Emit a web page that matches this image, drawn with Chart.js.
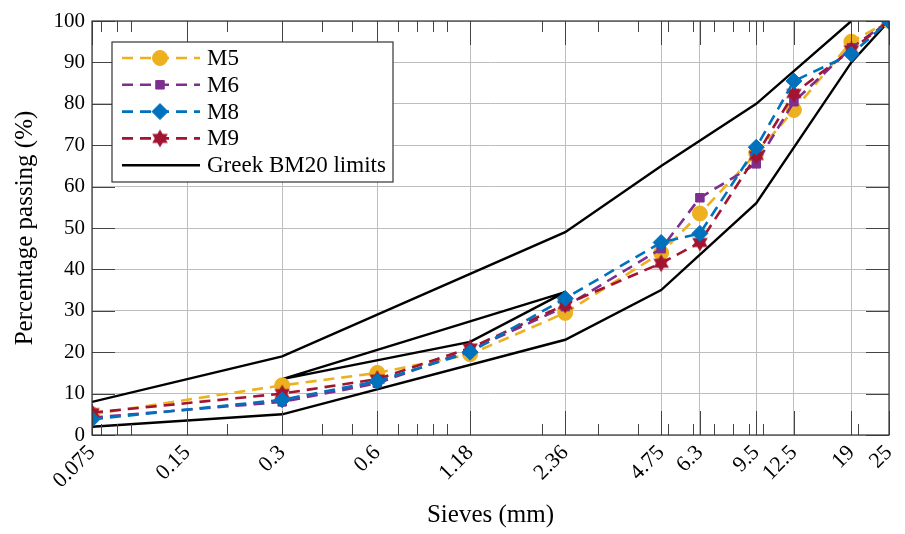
<!DOCTYPE html>
<html>
<head>
<meta charset="utf-8">
<script src="https://cdn.jsdelivr.net/npm/chart.js@4.4.1/dist/chart.umd.min.js"></script>
<style>
  html, body { margin:0; padding:0; background:#fff; }
  #wrap { width:905px; height:534px; }
</style>
</head>
<body>
<div id="wrap"><canvas id="grading" width="905" height="534"></canvas></div>
<script>
// sieve sizes (mm) and tick labels
const sieveTicks = [0.075, 0.15, 0.3, 0.6, 1.18, 2.36, 4.75, 6.3, 9.5, 12.5, 19, 25];
const minorTicks = [0.08, 0.09, 0.1, 0.2, 0.4, 0.5, 0.7, 0.8, 0.9, 1, 2, 3, 4, 5, 6, 7, 8, 9, 10, 20];
const yTicks = [0, 10, 20, 30, 40, 50, 60, 70, 80, 90, 100];

// mixture gradations (% passing)
const mixSieves = [0.075, 0.3, 0.6, 1.18, 2.36, 4.75, 6.3, 9.5, 12.5, 19, 25];
const m5 = [5.0, 12.0, 15.0, 19.5, 29.5, 44.0, 53.5, 68.0, 78.5, 95.0, 100];
const m6 = [4.2, 8.0, 12.5, 20.5, 31.0, 45.0, 57.3, 65.5, 80.5, 93.5, 100];
const m8 = [3.8, 8.5, 13.0, 20.0, 33.0, 46.5, 48.7, 69.5, 85.5, 92.0, 100];
const m9 = [5.4, 10.0, 13.5, 21.0, 31.5, 41.5, 46.5, 67.5, 82.5, 93.0, 100];

// Greek BM20 limits
const upperSieves = [0.075, 0.3, 2.36, 4.75, 9.5, 19];
const upperLimit = [8, 19, 49, 65, 80, 100];
const lowerSieves = [0.075, 0.3, 2.36, 4.75, 9.5, 19, 25];
const lowerLimit = [2, 5, 23, 35, 56, 90, 100];
const zoneSieves = [0.3, 1.18, 2.36, 0.3];
const zoneLimit = [13.5, 22.5, 34.5, 13.5];

const FONT = '"Liberation Serif", "DejaVu Serif", serif';

function pts(xs, ys){ return xs.map((x,i)=>({x:x, y:ys[i]})); }

// six pointed star marker
function hexStar(color, r){
  const c = document.createElement('canvas');
  const s = Math.ceil(r*2 + 2);
  c.width = s; c.height = s;
  const g = c.getContext('2d');
  g.fillStyle = color;
  [-90, 90].forEach(off => {
    g.beginPath();
    for (let k=0;k<3;k++){
      const a = (off + k*120) * Math.PI/180;
      const px = s/2 + r*Math.cos(a), py = s/2 + r*Math.sin(a);
      k ? g.lineTo(px,py) : g.moveTo(px,py);
    }
    g.closePath(); g.fill();
  });
  return c;
}

const C5 = '#EDB120', C6 = '#7E2F8E', C8 = '#0072BD', C9 = '#A2142F';

function mix(label, data, color, style, radius, order){
  return {
    label, data: pts(mixSieves, data), order,
    borderColor: color, backgroundColor: color,
    borderWidth: 2.6, borderDash: [11, 7],
    pointStyle: style, pointRadius: radius, pointHoverRadius: radius,
    pointBackgroundColor: color, pointBorderColor: color, pointBorderWidth: 1,
    tension: 0, fill: false
  };
}
function limit(label, xs, ys){
  return {
    label, data: pts(xs, ys), order: 10,
    borderColor: '#000', backgroundColor: '#000', borderWidth: 2.4,
    pointRadius: 0, pointHoverRadius: 0, tension: 0, fill: false
  };
}

const datasets = [
  mix('M5', m5, C5, 'circle', 7.5, 4),
  mix('M6', m6, C6, 'rect', 6, 3),
  mix('M8', m8, C8, 'rectRot', 8, 1),
  mix('M9', m9, C9, hexStar(C9, 9), 9, 2),
  limit('Greek BM20 limits', upperSieves, upperLimit),
  limit('lower', lowerSieves, lowerLimit),
  limit('zone', zoneSieves, zoneLimit)
];

// frame, inner ticks and legend box inside the plot
const decor = {
  id: 'decor',
  afterDraw(chart){
    const {ctx, chartArea:a, scales:{x, y}} = chart;
    ctx.save();
    ctx.strokeStyle = '#444'; ctx.lineWidth = 1;
    ctx.beginPath();
    sieveTicks.forEach(v => { const px = Math.round(x.getPixelForValue(v))+0.5;
      ctx.moveTo(px, a.bottom); ctx.lineTo(px, a.bottom-24);
      ctx.moveTo(px, a.top); ctx.lineTo(px, a.top+24); });
    minorTicks.forEach(v => { const px = Math.round(x.getPixelForValue(v))+0.5;
      ctx.moveTo(px, a.bottom); ctx.lineTo(px, a.bottom-11);
      ctx.moveTo(px, a.top); ctx.lineTo(px, a.top+11); });
    yTicks.forEach(v => { const py = Math.round(y.getPixelForValue(v))+0.5;
      ctx.moveTo(a.left, py); ctx.lineTo(a.left+23, py);
      ctx.moveTo(a.right, py); ctx.lineTo(a.right-23, py); });
    ctx.stroke();
    ctx.strokeStyle = '#333'; ctx.lineWidth = 1.2;
    ctx.strokeRect(a.left, a.top, a.right-a.left, a.bottom-a.top);

    // legend
    const bx = a.left + 20, by = a.top + 21, bw = 281, bh = 140;
    ctx.fillStyle = '#fff'; ctx.fillRect(bx, by, bw, bh);
    ctx.strokeStyle = '#333'; ctx.lineWidth = 1.2; ctx.strokeRect(bx, by, bw, bh);
    const items = [0, 1, 2, 3, 4];
    ctx.font = '23px ' + FONT; ctx.textBaseline = 'middle'; ctx.textAlign = 'left';
    items.forEach((di, i) => {
      const ds = chart.data.datasets[di];
      const ly = by + 16 + i*26.8;
      ctx.strokeStyle = ds.borderColor; ctx.lineWidth = ds.borderWidth;
      ctx.setLineDash(ds.borderDash || []);
      ctx.beginPath(); ctx.moveTo(bx+10, ly); ctx.lineTo(bx+88, ly); ctx.stroke();
      ctx.setLineDash([]);
      if (ds.pointRadius){
        ctx.fillStyle = ds.pointBackgroundColor; ctx.strokeStyle = ds.pointBorderColor; ctx.lineWidth = 1;
        Chart.helpers.drawPoint(ctx, {pointStyle: ds.pointStyle, radius: ds.pointRadius, rotation: 0, borderWidth: 1}, bx+48, ly);
      }
      ctx.fillStyle = '#000';
      ctx.fillText(ds.label, bx+95, ly+1);
    });
    ctx.restore();
  }
};

new Chart(document.getElementById('grading'), {
  type: 'line',
  data: { datasets },
  options: {
    responsive: false, animation: false,
    layout: { padding: { left: 6, right: 16, top: 21, bottom: 4 } },
    plugins: { legend: { display: false }, tooltip: { enabled: false } },
    scales: {
      x: {
        type: 'logarithmic', min: 0.075, max: 25,
        afterBuildTicks: s => { s.ticks = sieveTicks.map(v => ({value: v})); },
        afterFit: s => { s.height = 95; s.paddingLeft = 0; s.paddingRight = 0; },
        ticks: { autoSkip: false, maxRotation: 45, minRotation: 45, padding: 5,
          color: '#000', font: { family: FONT, size: 22 }, callback: v => String(v) },
        grid: { color: '#bdbdbd', lineWidth: 1, drawTicks: false },
        border: { display: false },
        title: { display: true, text: 'Sieves (mm)', color: '#000', font: { family: FONT, size: 25 }, padding: { top: 0, bottom: 0 } }
      },
      y: {
        min: 0, max: 100,
        afterBuildTicks: s => { s.ticks = yTicks.map(v => ({value: v})); },
        afterFit: s => { s.width = 86; },
        ticks: { padding: 7, color: '#000', font: { family: FONT, size: 21 } },
        grid: { color: '#bdbdbd', lineWidth: 1, drawTicks: false },
        border: { display: false },
        title: { display: true, text: 'Percentage passing (%)', color: '#000', font: { family: FONT, size: 25 }, padding: { top: 4, bottom: 2 } }
      }
    }
  },
  plugins: [decor]
});
</script>
</body>
</html>
